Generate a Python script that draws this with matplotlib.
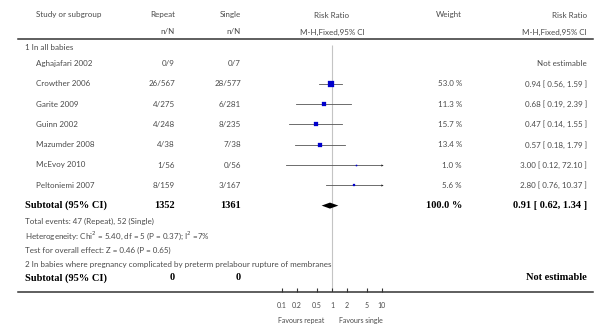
import numpy as np
import matplotlib
matplotlib.use('Agg')
import matplotlib.pyplot as plt

# study data
studies = ['Aghajafari 2002', 'Crowther 2006', 'Garite 2009', 'Guinn 2002',
           'Mazumder 2008', 'McEvoy 2010', 'Peltoniemi 2007']
repeat_nN = ['0/9', '26/567', '4/275', '4/248', '4/38', '1/56', '8/159']
single_nN = ['0/7', '28/577', '6/281', '8/235', '7/38', '0/56', '3/167']
weights = [None, 53.0, 11.3, 15.7, 13.4, 1.0, 5.6]
rr = [None, 0.94, 0.68, 0.47, 0.57, 3.00, 2.80]
ci_lo = [None, 0.56, 0.19, 0.14, 0.18, 0.12, 0.76]
ci_hi = [None, 1.59, 2.39, 1.55, 1.79, 72.10, 10.37]

sub_repeat, sub_single = 1352, 1361
sub_rr, sub_lo, sub_hi = 0.91, 0.62, 1.34
sub2_repeat, sub2_single = 0, 0

axis_ticks = [0.1, 0.2, 0.5, 1, 2, 5, 10]
axis_labels = ['0.1', '0.2', '0.5', '1', '2', '5', '10']

W, H = 601, 332
fig = plt.figure(figsize=(W / 100, H / 100), dpi=100)

sans = 'Lato'
serif = 'Liberation Serif'
gray = '#4a4a4a'
fs = 5.8
fsb = 7.5

tab = fig.add_axes([0, 0, 1, 1])
tab.set_xlim(0, W)
tab.set_ylim(H, 0)
tab.axis('off')

# column positions (pixels)
x_name, x_group, x_rep, x_sing = 36, 25, 175, 241
x_mid, x_wt, x_rr = 332, 462, 587
y0, dy = 63.5, 20.3
row_y = [y0 + i * dy for i in range(len(studies))]
y_sub = y0 + len(studies) * dy

def t(x, y, s, ha='left', bold=False, **kw):
    if bold:
        tab.text(x, y, s, ha=ha, va='center', fontsize=fsb, family=serif,
                 fontweight='bold', color='black', **kw)
    else:
        tab.text(x, y, s, ha=ha, va='center', fontsize=fs, family=sans,
                 color=gray, **kw)

# header
t(x_name, 15, 'Study or subgroup')
t(x_rep, 15, 'Repeat', ha='right')
t(x_rep, 32, 'n/N', ha='right')
t(x_sing, 15, 'Single', ha='right')
t(x_sing, 32, 'n/N', ha='right')
t(x_mid, 15, 'Risk Ratio', ha='center')
t(x_mid, 32, 'M-H,Fixed,95% CI', ha='center')
t(x_wt, 15, 'Weight', ha='right')
t(x_rr, 15, 'Risk Ratio', ha='right')
t(x_rr, 32, 'M-H,Fixed,95% CI', ha='right')
tab.plot([18, 593], [38.5, 38.5], color='#333333', lw=1.1)
tab.plot([18, 593], [292, 292], color='#333333', lw=1.1)

t(x_group, 48, '1 In all babies')
for i, name in enumerate(studies):
    y = row_y[i]
    t(x_name, y, name)
    t(x_rep, y, repeat_nN[i], ha='right')
    t(x_sing, y, single_nN[i], ha='right')
    if rr[i] is None:
        t(x_rr, y, 'Not estimable', ha='right')
    else:
        t(x_wt, y, f'{weights[i]:.1f} %', ha='right')
        t(x_rr, y, f'{rr[i]:.2f} [ {ci_lo[i]:.2f}, {ci_hi[i]:.2f} ]', ha='right')

t(x_group, y_sub, 'Subtotal (95% CI)', bold=True)
t(x_rep, y_sub, str(sub_repeat), ha='right', bold=True)
t(x_sing, y_sub, str(sub_single), ha='right', bold=True)
t(x_wt, y_sub, '100.0 %', ha='right', bold=True)
t(x_rr, y_sub, f'{sub_rr:.2f} [ {sub_lo:.2f}, {sub_hi:.2f} ]', ha='right', bold=True)

t(x_group, 221, 'Total events: 47 (Repeat), 52 (Single)')
t(x_group, 236, 'Heterogeneity: Chi$^{2}$ = 5.40, df = 5 (P = 0.37); I$^{2}$ =7%')
t(x_group, 250, 'Test for overall effect: Z = 0.46 (P = 0.65)')
t(x_group, 264.5, '2 In babies where pregnancy complicated by preterm prelabour rupture of membranes')
t(x_group, 278, 'Subtotal (95% CI)', bold=True)
t(x_rep, 278, str(sub2_repeat), ha='right', bold=True)
t(x_sing, 278, str(sub2_single), ha='right', bold=True)
t(x_rr, 278, 'Not estimable', ha='right', bold=True)

# forest part
ax = fig.add_axes([282 / W, 0, 100 / W, 1])
ax.set_xscale('log')
ax.set_xlim(0.1, 10)
ax.set_ylim(H, 0)
ax.patch.set_visible(False)
for s in ['top', 'left', 'right']:
    ax.spines[s].set_visible(False)
ax.spines['bottom'].set_position(('data', 292))
ax.spines['bottom'].set_visible(False)
ax.set_yticks([])
ax.set_xticks(axis_ticks)
ax.set_xticklabels(axis_labels)
ax.minorticks_off()
ax.tick_params(axis='x', direction='in', length=3, width=0.8, color='#333333',
               labelsize=5, labelcolor=gray, pad=7)
for lab in ax.get_xticklabels():
    lab.set_family(sans)

ax.vlines(1, 45, 292, color='#c4c4c4', lw=0.8, zorder=0.5)

xmin, xmax = ax.get_xlim()
for i in range(len(studies)):
    if rr[i] is None:
        continue
    y = row_y[i]
    lo = max(ci_lo[i], xmin)
    hi = min(ci_hi[i], xmax)
    ax.plot([lo, hi], [y, y], color='#555555', lw=0.6, clip_on=False)
    if ci_hi[i] > xmax:
        ax.plot([xmax], [y], marker='>', ms=1.6, color='#222222', mew=0,
                clip_on=False)
    side = max(np.sqrt(weights[i]) * 0.95, 1.2)
    ax.plot([rr[i]], [y], marker='s', ms=side * 0.72, color='#0000cc',
            mec='#0000cc', mew=0.2, ls='none', clip_on=False, zorder=3)

# summary diamond
ax.fill([sub_lo, sub_rr, sub_hi, sub_rr], [y_sub, y_sub - 3, y_sub, y_sub + 3],
        color='black', lw=0, zorder=3)

ax.text(0.7, 320, 'Favours repeat', ha='right', va='center', fontsize=5,
        family=sans, color=gray)
ax.text(1.4, 320, 'Favours single', ha='left', va='center', fontsize=5,
        family=sans, color=gray)

fig.savefig('out.png', dpi=100)
